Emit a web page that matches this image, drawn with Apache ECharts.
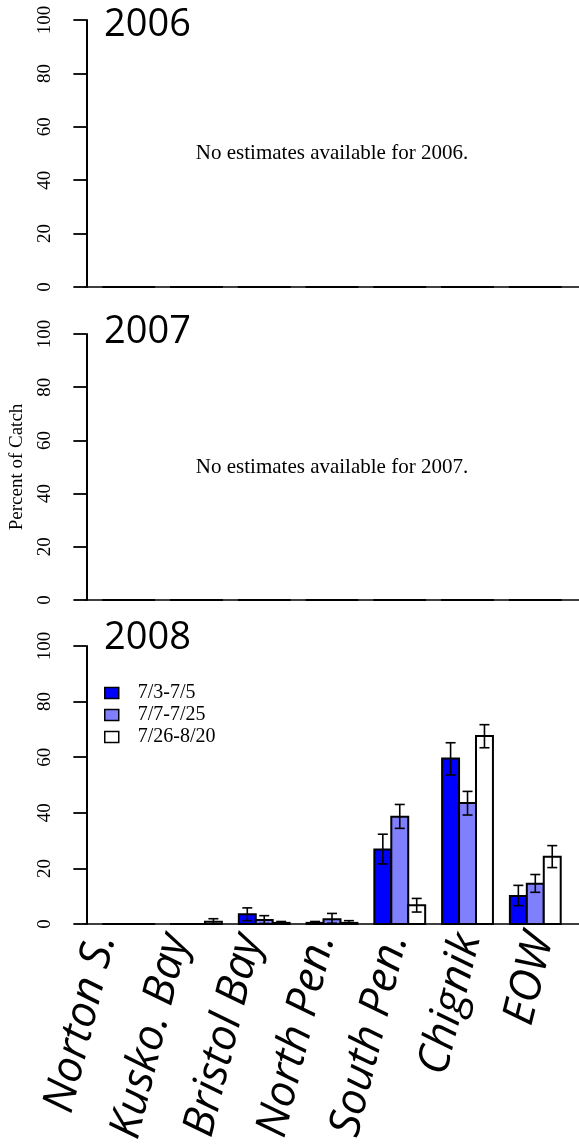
<!DOCTYPE html>
<html>
<head>
<meta charset="utf-8">
<script src="https://cdn.jsdelivr.net/npm/echarts@6/dist/echarts.min.js"></script>
<style>
html, body { margin: 0; padding: 0; background: #fff; }
#chart { width: 579px; height: 1146px; }
</style>
</head>
<body>
<div id="chart"></div>
<script>
var years = ['2006', '2007', '2008'];
var regions = ['Norton S.', 'Kusko. Bay', 'Bristol Bay', 'North Pen.', 'South Pen.', 'Chignik', 'EOW'];
var periods = ['7/3-7/5', '7/7-7/25', '7/26-8/20'];
var yTicks = [0, 20, 40, 60, 80, 100];

// 2008 estimates (percent of catch) with lower / upper bounds
var early = [0, 0, 3.5, 0.4, 26.8, 59.5, 10.1];
var earlyLo = [0, 0, 1.2, 0, 21.6, 53.6, 6.6];
var earlyHi = [0, 0, 5.8, 0.9, 32.3, 65.2, 13.9];
var mid = [0, 0, 1.4, 1.7, 38.6, 43.5, 14.5];
var midLo = [0, 0, 0.2, 0.3, 34.4, 39.2, 11.4];
var midHi = [0, 0, 3.0, 3.8, 43.0, 47.7, 17.8];
var late = [0, 0.8, 0.4, 0.4, 6.7, 67.6, 24.2];
var lateLo = [0, 0.1, 0, 0, 4.3, 63.4, 20.3];
var lateHi = [0, 1.9, 0.9, 1.2, 9.2, 71.7, 28.2];
// 2006 and 2007: nothing estimated, bars sit at zero
var noEstimates = [0, 0, 0, 0, 0, 0, 0];

var fills = ['#0000ff', '#8080ff', '#ffffff'];
var serif = 'Liberation Serif';

// panel boxes (pixel of 100 and height down to 0)
var panels = [
    { top: 20, height: 267 },
    { top: 334, height: 266 },
    { top: 646, height: 278 }
];
var gridLeft = 85, gridWidth = 494;
// x units: one unit per bar, groups of 3 bars + 1 gap, like barplot(space=c(0,1))
var xMin = -0.08, xMax = 29.08;

var yearData = [
    [[noEstimates, noEstimates, noEstimates], [noEstimates, noEstimates, noEstimates], [noEstimates, noEstimates, noEstimates]],
    [[noEstimates, noEstimates, noEstimates], [noEstimates, noEstimates, noEstimates], [noEstimates, noEstimates, noEstimates]],
    [[early, earlyLo, earlyHi], [mid, midLo, midHi], [late, lateLo, lateHi]]
];

function seg(x1, y1, x2, y2) {
    return { type: 'line', shape: { x1: x1, y1: y1, x2: x2, y2: y2 }, style: { stroke: '#000', lineWidth: 1.6 } };
}

function barItem(slot) {
    return function (params, api) {
        var k = api.value(0), v = api.value(1), lo = api.value(2), hi = api.value(3);
        var u = 4 * k + 1 + slot;
        var base = api.coord([u, 0]);
        var top = api.coord([u + 1, v]);
        var cx = api.coord([u + 0.5, 0])[0];
        var kids = [{
            type: 'rect',
            shape: { x: base[0], y: top[1], width: top[0] - base[0], height: Math.max(base[1] - top[1], 0.01) },
            style: { fill: fills[slot], stroke: '#000', lineWidth: 2 }
        }];
        if (hi > lo) {
            var yLo = api.coord([u, lo])[1], yHi = api.coord([u, hi])[1];
            kids.push(seg(cx, yLo, cx, yHi), seg(cx - 5, yLo, cx + 5, yLo), seg(cx - 5, yHi, cx + 5, yHi));
        }
        return { type: 'group', children: kids };
    };
}

var grids = [], xAxes = [], yAxes = [], series = [], graphics = [];
var titleY = [25, 332, 638];

panels.forEach(function (p, i) {
    grids.push({ left: gridLeft, width: gridWidth, top: p.top, height: p.height });
    xAxes.push({
        type: 'value', gridIndex: i, min: xMin, max: xMax,
        axisLine: { show: true, lineStyle: { color: '#000', width: 1.5 } },
        axisTick: { show: false }, axisLabel: { show: false }, splitLine: { show: false }
    });
    yAxes.push({
        type: 'value', gridIndex: i, min: yTicks[0], max: yTicks[yTicks.length - 1], interval: yTicks[1] - yTicks[0],
        axisLine: { show: true, lineStyle: { color: '#000', width: 2 } },
        axisTick: { show: true, length: 13, lineStyle: { color: '#000', width: 1.8 } },
        axisLabel: { rotate: 90, margin: 30, fontFamily: serif, fontSize: 19, color: '#000' },
        splitLine: { show: false },
        name: i === 1 ? 'Percent of Catch' : '',
        nameLocation: 'middle', nameGap: 58,
        nameTextStyle: { fontFamily: serif, fontSize: 19, color: '#000' }
    });
    periods.forEach(function (name, s) {
        var vals = yearData[i][s];
        series.push({
            type: 'custom', name: name, xAxisIndex: i, yAxisIndex: i,
            renderItem: barItem(s), clip: false,
            itemStyle: { color: fills[s], borderColor: '#000', borderWidth: 1.5 },
            data: regions.map(function (r, k) { return [k, vals[0][k], vals[1][k], vals[2][k]]; })
        });
    });
    graphics.push({
        type: 'text', x: 104, y: titleY[i],
        style: { text: years[i], fontFamily: 'Open Sans', fontSize: 38, fill: '#000', verticalAlign: 'middle' }
    });
    if (i < 2) {
        graphics.push({
            type: 'text', x: gridLeft + gridWidth / 2, y: p.top + p.height / 2,
            style: { text: 'No estimates available for ' + years[i] + '.', fontFamily: serif, fontSize: 21, fill: '#000', align: 'center', verticalAlign: 'middle' }
        });
    }
});

// label grid for the region names (labels sit slightly wider apart than the bar groups)
var last = panels[2];
grids.push({ left: 66.5, width: 511, top: last.top, height: last.height });
xAxes.push({
    type: 'category', gridIndex: 3, data: regions,
    axisLine: { show: false }, axisTick: { show: false },
    axisLabel: { interval: 0, rotate: 76, margin: 14, fontFamily: 'Open Sans', fontStyle: 'italic', fontSize: 44, color: '#000' }
});
yAxes.push({ type: 'value', gridIndex: 3, show: false, min: 0, max: 100 });

var chart = echarts.init(document.getElementById('chart'));
chart.setOption({
    animation: false,
    grid: grids,
    xAxis: xAxes,
    yAxis: yAxes,
    legend: {
        data: periods.map(function (n) { return { name: n, icon: 'rect' }; }),
        orient: 'vertical', left: 104, top: 683, padding: 0,
        itemWidth: 14, itemHeight: 11, itemGap: 2, selectedMode: false,
        itemStyle: { borderColor: '#000', borderWidth: 1.5 },
        textStyle: { fontFamily: serif, fontSize: 20, color: '#000', padding: [0, 0, 0, 14] }
    },
    graphic: graphics,
    series: series
});
</script>
</body>
</html>
